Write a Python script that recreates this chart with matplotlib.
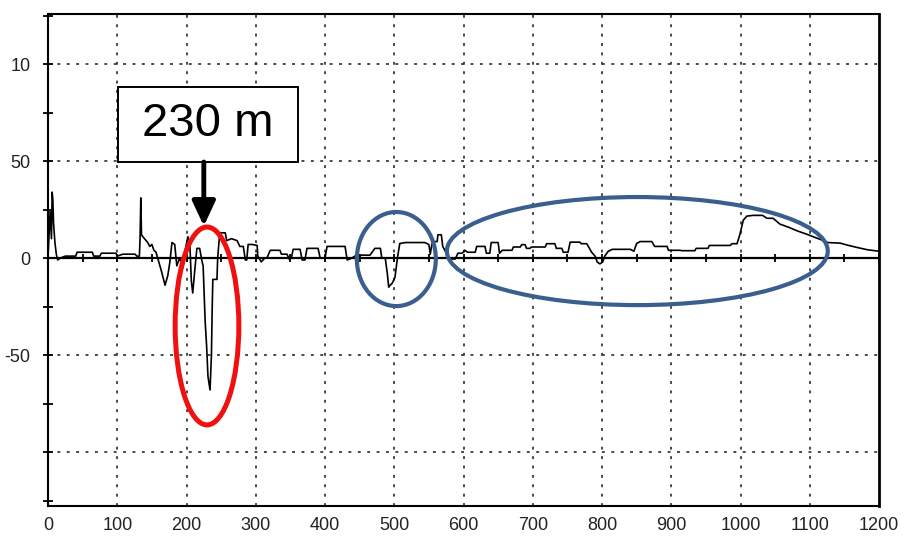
#!/usr/bin/env python3
# -*- coding: utf-8 -*-

"""
Reflectogram trace with a marked fault at 230 m.
Saves out.png (905x536).
"""

import matplotlib
matplotlib.use("Agg")
import matplotlib.pyplot as plt
from matplotlib.patches import Ellipse, Rectangle


# trace: distance (m) and level
dist_m = [
    0, 3, 5, 6, 7, 8, 10, 12, 14, 18, 25, 40, 42, 64, 66, 75, 77, 98, 100,
    108, 126, 128, 132, 133, 134, 135, 137, 144, 147, 150, 153, 156,
    160, 164, 169, 173, 176, 179, 183, 186, 190, 195, 198, 202, 205, 207,
    209, 212, 215, 219, 222, 224, 227, 229, 231, 234, 236, 237, 238, 244,
    245, 248, 256, 258, 265, 273, 277, 282, 285, 287, 289, 295, 302,
    303, 308, 313, 316, 321, 335, 337, 345, 349, 352, 354, 364, 367, 371,
    374, 390, 393, 400, 403, 429, 432, 439, 443, 446, 465, 472, 480, 482,
    487, 490, 492, 494, 497, 501, 505, 508, 516, 544, 550, 552, 555, 562,
    563, 568, 570, 576, 581, 588, 592, 598, 602, 606, 617, 619, 631, 633,
    638, 640, 650, 652, 656, 670, 672, 682, 684, 689, 691, 696, 698, 718,
    720, 732, 734, 742, 744, 751, 754, 768, 770, 778, 785, 790, 793, 797,
    801, 804, 809, 815, 841, 846, 850, 855, 872, 876, 894, 896, 913, 915,
    934, 936, 953, 955, 985, 988, 995, 999, 1004, 1009, 1018, 1032, 1038,
    1047, 1057, 1070, 1082, 1094, 1105, 1116, 1126, 1144, 1154, 1168,
    1183, 1200,
]
level = [
    0, 24, 10, 34, 30, 18, 8, 2, -1, 0, 1, 1, 3, 3, 1, 1, 2.5, 2.5, 1,
    2, 2, 1, 1, 11, 31, 12, 11, 8, 6, 7, 4, 3,
    -2, -7, -14, -9, -2, 8, 7, -4, 0, -5, 4, 11, 6, -12,
    -18, -6, 5, 5, -1, -4, -33, -45, -61, -68, -50, -28, -11, -11,
    0, 13, 13, 9, 10, 9, 6, 6, -1, -1, 7, 7, 6.5,
    1, -2, 0, 0, 4, 4, 2, 2, -1, 1, 4.5, 4.5, -1, -1,
    5, 5, 0, 0, 6, 6, -1, 0, 1, 1.5, 1.5, 5, 5, 0,
    0, -8, -15, -14, -13, -10, 1, 7.5, 8, 8, 7, 2, 8.5, 8.5,
    12, 12, 6, 2, -0.5, -0.5, 2.5, 2.5, 4, 3, 3, 6, 6, 2.5,
    2.5, 8, 8, 2.5, 4, 4, 5.7, 5.7, 6.9, 6.9, 5, 5, 5.7, 5.7,
    7.4, 7.4, 5, 5, 3, 3, 8.2, 8.2, 7.4, 7.4, 3, 1, -2, -3,
    -2, 1, 3.5, 4.5, 4.5, 3.5, 7.5, 8.5, 8.5, 6, 6, 4, 4, 3.8,
    3.8, 5, 5, 6.5, 6.5, 7.4, 7.4, 12, 19.5, 21.6, 22, 22, 20.5,
    20.5, 17.5, 15.8, 14, 12.5, 11, 9.5, 8, 7.7, 6.7, 5.5,
    4.3, 3.5,
]

x_ticks = [0, 100, 200, 300, 400, 500, 600, 700, 800, 900, 1000, 1100, 1200]
y_ticks = [125, 100, 75, 50, 25, 0, -25, -50, -75, -100, -125]
y_tick_labels = ["", "10", "", "50", "", "0", "", "-50", "", "", ""]
fault_label = "230 m"

GRID_STYLE = dict(color="#3a3a3a", linestyle=(0, (1.6, 3.6)), linewidth=1.3)
BLUE = "#3a5f8e"


def main():
    plt.rcParams["font.family"] = ["Liberation Sans", "DejaVu Sans"]

    fig = plt.figure(figsize=(9.05, 5.36), dpi=100)
    ax = fig.add_axes([48 / 905, 1 - 506 / 536, 831 / 905, 492 / 536])

    ax.set_xlim(0, 1200)
    ax.set_ylim(-127.8, 125.8)

    # dotted grid, only at the labelled levels
    for gx in x_ticks[1:-1]:
        ax.axvline(gx, zorder=1, **GRID_STYLE)
    for gy in [100, 50, -50, -100]:
        ax.axhline(gy, zorder=1, **GRID_STYLE)

    # zero line with its own small ticks every 50 m
    ax.axhline(0, color="black", linewidth=1.6, zorder=2)
    zero_ticks = list(range(0, 1201, 50))
    ax.plot(zero_ticks, [0] * len(zero_ticks), linestyle="none", marker="|",
            markersize=6, markeredgewidth=1.3, color="black", zorder=2)

    ax.plot(dist_m, level, color="black", linewidth=1.2, zorder=3)

    ax.set_xticks(x_ticks)
    ax.set_xticklabels([str(v) for v in x_ticks])
    ax.set_yticks(y_ticks)
    ax.set_yticklabels(y_tick_labels)
    ax.tick_params(axis="x", length=0, pad=8, labelsize=13, labelcolor="#222222")
    ax.tick_params(axis="y", direction="inout", length=7, width=1.3,
                   pad=9, labelsize=13, labelcolor="#222222")

    for side in ["left", "right", "top", "bottom"]:
        ax.spines[side].set_linewidth(1.5)
    ax.spines["right"].set_linewidth(2.0)

    # callout box and arrow
    ax.add_patch(Rectangle((101, 49.5), 260, 38.5, facecolor="white",
                           edgecolor="black", linewidth=1.4, zorder=5))
    ax.text(231, 69, fault_label, ha="center", va="center", fontsize=34,
            color="black", zorder=6)
    ax.annotate("", xy=(225, 16.5), xytext=(225, 49.5), zorder=6,
                arrowprops=dict(arrowstyle="-|>,head_length=0.75,head_width=0.35",
                                mutation_scale=20, lw=3.5, color="black",
                                shrinkA=0, shrinkB=0))

    # highlight rings
    ax.add_patch(Ellipse((229.6, -35), 92, 102, fill=False, edgecolor="#f01010",
                         linewidth=3.6, zorder=7))
    ax.add_patch(Ellipse((503, -0.5), 114, 48.5, fill=False, edgecolor=BLUE,
                         linewidth=3.0, zorder=7))
    ax.add_patch(Ellipse((851, 3.6), 550, 55.7, fill=False, edgecolor=BLUE,
                         linewidth=3.0, zorder=7))

    fig.savefig("out.png", dpi=100)
    plt.close(fig)


if __name__ == "__main__":
    main()
